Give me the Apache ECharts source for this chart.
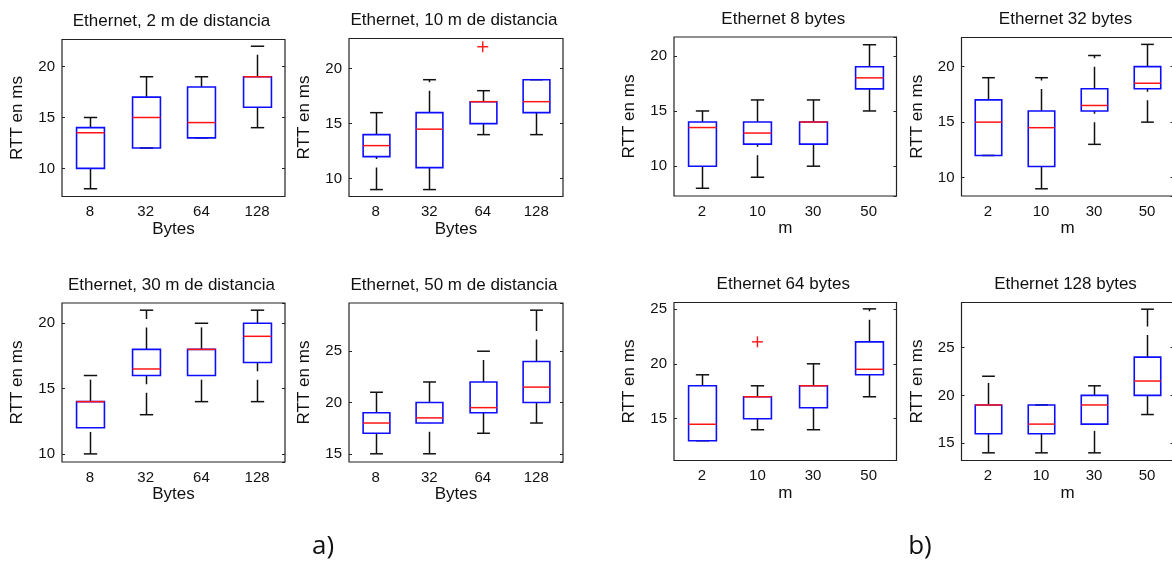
<!DOCTYPE html>
<html>
<head>
<meta charset="utf-8">
<script src="https://cdn.jsdelivr.net/npm/echarts@6/dist/echarts.min.js"></script>
<style>
html,body{margin:0;padding:0;background:#fff;}
#c{width:1172px;height:561px;}
</style>
</head>
<body>
<div id="c"></div>
<script>
// ---------------- data ----------------
const bytesCats = ['8', '32', '64', '128'];
const distCats = ['2', '10', '30', '50'];
const titlesA = ['Ethernet, 2 m de distancia', 'Ethernet, 10 m de distancia', 'Ethernet, 30 m de distancia', 'Ethernet, 50 m de distancia'];
const titlesB = ['Ethernet 8 bytes', 'Ethernet 32 bytes', 'Ethernet 64 bytes', 'Ethernet 128 bytes'];
const yAxisName = 'RTT en ms';
const xNameA = 'Bytes';
const xNameB = 'm';
// box stats per packet size (8, 32, 64, 128 bytes): [lower whisker, Q1, median, Q3, upper whisker]
const dist2m  = [[8, 10, 13.5, 14, 15], [12, 12, 15, 17, 19], [13, 13, 14.5, 18, 19], [14, 16, 19, 19, 22]];
const dist10m = [[9, 12, 13, 14, 16], [9, 11, 14.5, 16, 19], [14, 15, 17, 17, 18], [14, 16, 17, 19, 19]];
const dist30m = [[10, 12, 14, 14, 16], [13, 16, 16.5, 18, 21], [14, 16, 18, 18, 20], [14, 17, 19, 20, 21]];
const dist50m = [[15, 17, 18, 19, 21], [15, 18, 18.5, 20, 22], [17, 19, 19.5, 22, 25], [18, 20, 21.5, 24, 29]];
// outliers per packet size
const out2m  = [[], [], [], []];
const out10m = [[], [], [22], []];
const out30m = [[], [], [], []];
const out50m = [[], [], [], []];
// y-axis ranges of each panel (a: 2,10,30,50 m; b: 8,32,64,128 bytes)
const yRangesA = [[7.24, 22.66], [8.37, 22.75], [9.38, 21.55], [14.2, 29.7]];
const yRangesB = [[7.3, 21.7], [8.35, 22.62], [11.2, 25.58], [13.2, 29.7]];

// ---------------- layout ----------------
const FONT = '"Liberation Sans", Arial, sans-serif';
const framesA = [[62, 39.5, 285, 196.5], [349, 38.5, 563, 196.5], [62, 303, 285, 462], [349, 303, 563, 462]];
const framesB = [[674, 37, 896.5, 196], [961.5, 37.5, 1173.5, 196], [674, 302.5, 896.5, 460.5], [961.5, 302.5, 1173.5, 460.5]];

const distSets = [dist2m, dist10m, dist30m, dist50m];
const outSets = [out2m, out10m, out30m, out50m];

const panels = [];
for (let k = 0; k < 4; k++) {
  panels.push({ title: titlesA[k], cats: bytesCats, xName: xNameA, boxes: distSets[k], outs: outSets[k], yr: yRangesA[k], frame: framesA[k] });
}
for (let b = 0; b < 4; b++) {
  panels.push({ title: titlesB[b], cats: distCats, xName: xNameB,
    boxes: distSets.map(s => s[b]), outs: outSets.map(s => s[b]), yr: yRangesB[b], frame: framesB[b] });
}

function renderBox(params, api) {
  const i = api.value(0);
  const lo = api.value(1), q1 = api.value(2), med = api.value(3), q3 = api.value(4), hi = api.value(5);
  const bw = api.size([1, 0])[0];
  const half = bw * 0.25, capHalf = bw * 0.12;
  const c = v => api.coord([i, v]);
  const cx = Math.round(c(q1)[0]) + 0.5;
  const yLo = c(lo)[1], yQ1 = c(q1)[1], yMed = c(med)[1], yQ3 = c(q3)[1], yHi = c(hi)[1];
  const black = { stroke: '#111', lineWidth: 1.5 };
  const dashed = { stroke: '#111', lineWidth: 1.5, lineDash: [22, 8.5] };
  return {
    type: 'group',
    children: [
      { type: 'line', shape: { x1: cx, y1: yLo, x2: cx, y2: yQ1 }, style: dashed },
      { type: 'line', shape: { x1: cx, y1: yQ3, x2: cx, y2: yHi }, style: dashed },
      { type: 'line', shape: { x1: cx - capHalf, y1: yLo, x2: cx + capHalf, y2: yLo }, style: black },
      { type: 'line', shape: { x1: cx - capHalf, y1: yHi, x2: cx + capHalf, y2: yHi }, style: black },
      { type: 'rect', shape: { x: cx - half, y: yQ3, width: 2 * half, height: yQ1 - yQ3 }, style: { stroke: '#0d0dff', lineWidth: 1.6, fill: null } },
      { type: 'line', shape: { x1: cx - half, y1: yMed, x2: cx + half, y2: yMed }, style: { stroke: '#ff1414', lineWidth: 1.5 } }
    ]
  };
}

function renderOutlier(params, api) {
  const p = api.coord([api.value(0), api.value(1)]);
  const s = 5.5;
  const st = { stroke: '#ff1414', lineWidth: 1.4 };
  return {
    type: 'group',
    children: [
      { type: 'line', shape: { x1: p[0] - s, y1: p[1], x2: p[0] + s, y2: p[1] }, style: st },
      { type: 'line', shape: { x1: p[0], y1: p[1] - s, x2: p[0], y2: p[1] + s }, style: st }
    ]
  };
}

const grids = [], xAxes = [], yAxes = [], series = [], graphics = [];
panels.forEach((p, k) => {
  const f = p.frame;
  grids.push({ left: f[0], top: f[1], width: f[2] - f[0], height: f[3] - f[1], show: true,
    borderColor: '#222', borderWidth: 1.2, backgroundColor: '#fff', containLabel: false, outerBoundsMode: 'none' });
  xAxes.push({ gridIndex: k, type: 'category', data: p.cats, boundaryGap: true,
    axisLine: { show: false }, axisTick: { show: false }, splitLine: { show: false },
    axisLabel: { margin: 8, fontSize: 15, color: '#111', fontFamily: FONT },
    name: p.xName, nameLocation: 'middle', nameGap: 24,
    nameTextStyle: { fontSize: 17, color: '#111', fontFamily: FONT, verticalAlign: 'top' } });
  const yBase = { gridIndex: k, type: 'value', min: p.yr[0], max: p.yr[1], minInterval: 5, maxInterval: 5,
    splitLine: { show: false }, axisLine: { show: false },
    axisTick: { show: true, inside: true, length: 3, lineStyle: { color: '#222', width: 1 } } };
  yAxes.push(Object.assign({}, yBase, { position: 'left',
    axisLabel: { margin: 7, fontSize: 15, color: '#111', fontFamily: FONT, showMinLabel: false, showMaxLabel: false },
    name: yAxisName, nameLocation: 'middle', nameGap: 36,
    nameTextStyle: { fontSize: 17, color: '#111', fontFamily: FONT } }));
  yAxes.push(Object.assign({}, yBase, { position: 'right', axisLabel: { show: false } }));
  series.push({ type: 'custom', xAxisIndex: k, yAxisIndex: 2 * k, renderItem: renderBox, silent: true, clip: false,
    encode: { x: 0, y: [1, 2, 3, 4, 5] }, data: p.boxes.map((b, i) => [i].concat(b)) });
  const outData = [];
  p.outs.forEach((arr, i) => arr.forEach(v => outData.push([i, v])));
  if (outData.length) {
    series.push({ type: 'custom', xAxisIndex: k, yAxisIndex: 2 * k, renderItem: renderOutlier, silent: true, clip: false,
      encode: { x: 0, y: 1 }, data: outData });
  }
  graphics.push({ type: 'text', x: (f[0] + f[2]) / 2 - 2, y: f[1] - 26.5, silent: true,
    style: { text: p.title, font: '17px ' + FONT, fill: '#111', align: 'center', verticalAlign: 'top' } });
});
graphics.push({ type: 'text', x: 323, y: 560, style: { text: 'a)', font: '26px "Open Sans", sans-serif', fill: '#111', align: 'center', verticalAlign: 'bottom' } });
graphics.push({ type: 'text', x: 920, y: 560, style: { text: 'b)', font: '26px "Open Sans", sans-serif', fill: '#111', align: 'center', verticalAlign: 'bottom' } });

const chart = echarts.init(document.getElementById('c'), null, { renderer: 'canvas' });
chart.setOption({
  backgroundColor: '#fff',
  animation: false,
  grid: grids,
  xAxis: xAxes,
  yAxis: yAxes,
  series: series,
  graphic: graphics
});
</script>
</body>
</html>
